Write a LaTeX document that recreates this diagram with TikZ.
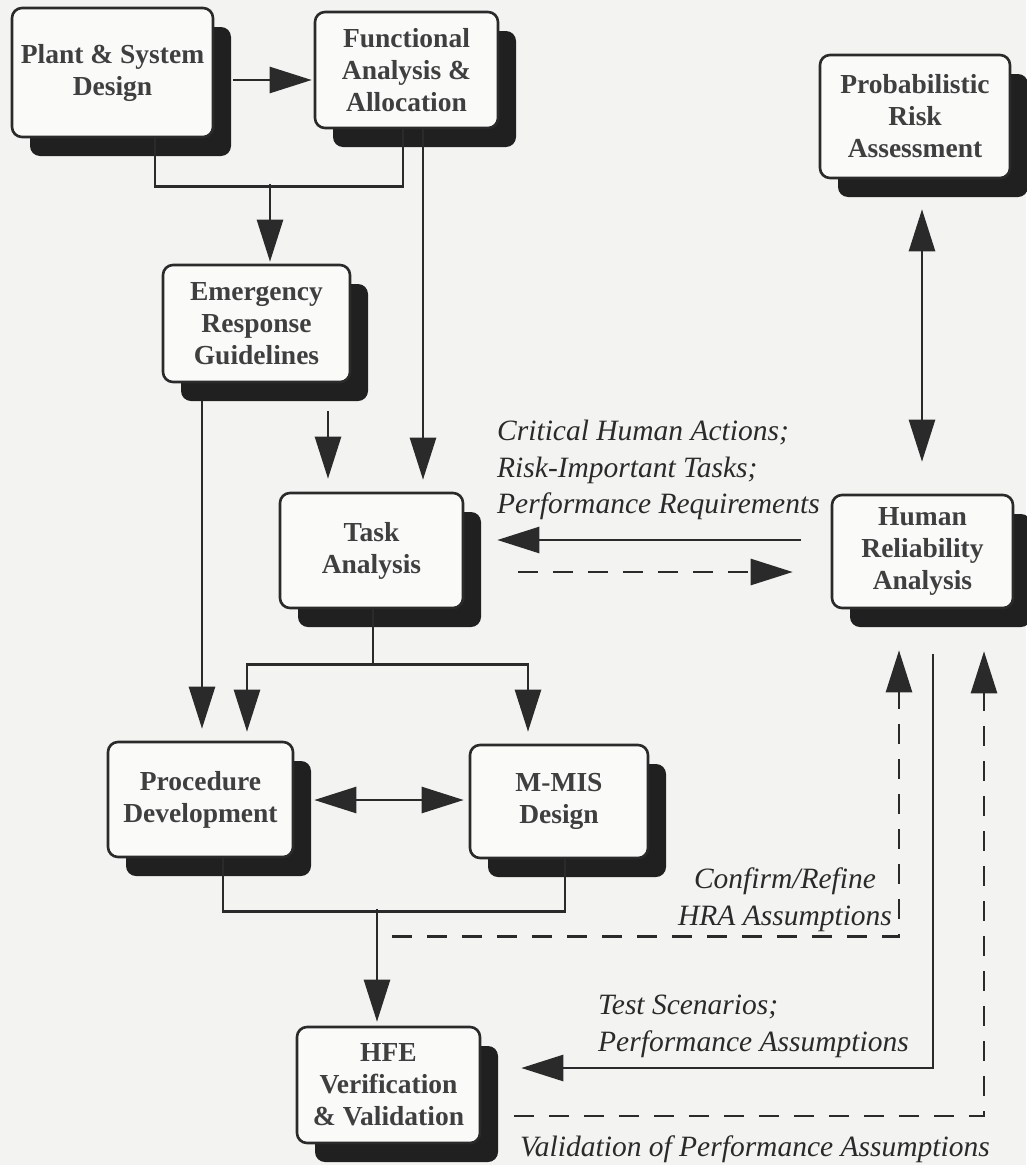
\documentclass[tikz,border=0pt]{standalone}
\usepackage{fontspec}
\setmainfont{LiberationSerif}[Extension=.ttf, UprightFont=*-Regular, ItalicFont=*-Italic, BoldFont=*-Bold, BoldItalicFont=*-BoldItalic]
\usetikzlibrary{arrows.meta,calc,shadows}
\definecolor{bgc}{RGB}{243,243,241}
\definecolor{boxc}{RGB}{250,250,249}
\definecolor{linec}{RGB}{42,42,42}
\definecolor{shadc}{RGB}{32,32,32}
\tikzset{
  box/.style={draw=linec, line width=2.6pt, rounded corners=10pt, fill=boxc,
    align=center, inner sep=0pt, font=\bfseries\fontsize{27.5}{32}\selectfont, text=linec!90,
    general shadow={fill=shadc, shadow xshift=18pt, shadow yshift=-19pt}},
  ln/.style={draw=linec, line width=2.6pt},
  arr/.style={ln, -{Triangle[length=42pt,width=26pt]}},
  arrb/.style={ln, {Triangle[length=42pt,width=26pt]}-{Triangle[length=42pt,width=26pt]}},
  dsh/.style={dash pattern=on 20pt off 15pt},
  lab/.style={font=\itshape\fontsize{29.5}{36.5}\selectfont, inner sep=0pt, text=linec}
}
\begin{document}
\begin{tikzpicture}[x=1pt,y=-1pt]
\fill[bgc] (0,0) rectangle (1026,1165);
\useasboundingbox (0,0) rectangle (1026,1165);

% boxes
\node[box, minimum width=201pt, minimum height=129pt] (psd) at (112.5,72.5) {Plant \& System\\Design};
\node[box, minimum width=183pt, minimum height=116pt] (faa) at (406.5,70) {Functional\\Analysis \&\\Allocation};
\node[box, minimum width=190pt, minimum height=123pt] (pra) at (915,116.5) {Probabilistic\\Risk\\Assessment};
\node[box, minimum width=187pt, minimum height=117pt] (erg) at (256.5,323.5) {Emergency\\Response\\Guidelines};
\node[box, minimum width=183pt, minimum height=115pt] (ta) at (371.5,550.5) {Task\\Analysis};
\node[box, minimum width=181pt, minimum height=113pt] (hra) at (922.5,551.5) {Human\\Reliability\\Analysis};
\node[box, minimum width=185pt, minimum height=115pt] (pd) at (200.5,799.5) {Procedure\\Development};
\node[box, minimum width=178pt, minimum height=113pt] (mmis) at (559,801.5) {M-MIS\\Design};
\node[box, minimum width=183pt, minimum height=116pt] (hfe) at (388.5,1085) {HFE\\Verification\\\& Validation};

% junctions
\coordinate (j1) at ($(erg.north)+(13.5,-80)$);
\coordinate (j2) at ($(ta.south)+(1.5,55)$);
\coordinate (j3) at ($(hfe.north)+(-11.5,-117)$);
\coordinate (j4) at ($(hfe.north)+(3.5,-89)$);

% top connectors
\draw[arr] ($(psd.east)+(19,7.5)$) -- ($(faa.west)+(-2,10)$);
\draw[ln] ($(psd.south)+(42.5,0)$) |- ($(faa.south)+(-3.5,57)$) -- ($(faa.south)+(-3.5,0)$);
\draw[arr] (j1) -- ($(erg.north)+(13.5,-2)$);
\draw[arr] ($(faa.south)+(16.5,0)$) -- ($(ta.north)+(51.5,-12)$);
\draw[arr] ($(erg.south)+(-54.5,18)$) -- ($(pd.north)+(1.5,-12)$);
\draw[arr] ($(erg.south)+(71.5,28)$) -- ($(ta.north)+(-43.5,-13)$);

% TA <-> HRA
\draw[arr] ($(hra.west)+(-30,-11.5)$) -- ($(ta.east)+(33,-10.5)$);
\draw[arr,dsh] ($(ta.east)+(54,21.5)$) -- ($(hra.west)+(-38,20.5)$);
\draw[arrb] ($(pra.south)+(7,30)$) -- ($(hra.north)+(-0.5,-32)$);

% TA split
\draw[ln] ($(ta.south)+(1.5,0)$) -- (j2);
\draw[arr] (j2) -| ($(pd.north)+(46.5,-9)$);
\draw[arr] (j2) -| ($(mmis.north)+(-31,-12)$);

% PD <-> MMIS
\draw[arrb] ($(pd.east)+(20,0.5)$) -- ($(mmis.west)+(-5,-1.5)$);

% PD/MMIS join
\draw[ln] ($(pd.south)+(22.5,0)$) |- ($(mmis.south)+(6,52)$) -- ($(mmis.south)+(6,0)$);
\draw[arr] (j3) -- ($(hfe.north)+(-11.5,-4)$);

% HRA feedback loops
\draw[arr,dsh] (j4) -| ($(hra.south)+(-23.5,41)$);
\draw[arr] ($(hra.south)+(10.5,45)$) |- ($(hfe.east)+(40,-17)$);
\draw[arr,dsh] ($(hfe.east)+(33,31)$) -| ($(hra.south)+(61.5,42)$);

% labels
\node[lab, anchor=north west, align=left] (l1) at (497,420) {Critical Human Actions;\\Risk-Important Tasks;\\Performance Requirements};
\node[lab, anchor=north, align=center] (l2) at (785,868) {Confirm/Refine\\HRA Assumptions};
\node[lab, anchor=north west, align=left] (l3) at (598,995) {Test Scenarios;\\Performance Assumptions};
\node[lab, anchor=north west] (l4) at (520,1136) {Validation of Performance Assumptions};
\end{tikzpicture}
\end{document}
